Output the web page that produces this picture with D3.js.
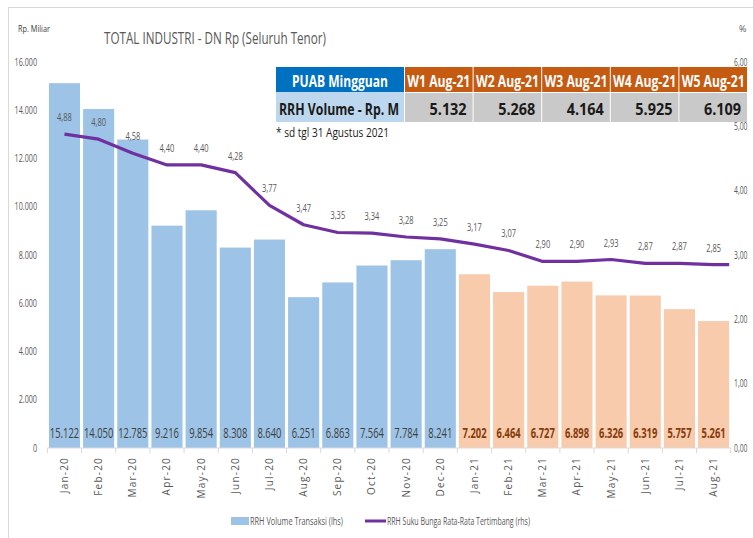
<!DOCTYPE html>
<html><head><meta charset="utf-8">
<script src="https://cdn.jsdelivr.net/npm/d3@7"></script>
<style>
html,body{margin:0;padding:0;background:#fff;}
svg{display:block;}
text{font-family:"Open Sans",sans-serif;}
</style></head>
<body>
<svg id="c" width="753" height="538"></svg>
<script>
const months = ["Jan-20","Feb-20","Mar-20","Apr-20","May-20","Jun-20","Jul-20","Aug-20","Sep-20","Oct-20","Nov-20","Dec-20","Jan-21","Feb-21","Mar-21","Apr-21","May-21","Jun-21","Jul-21","Aug-21"];
const volume = [15122,14050,12785,9216,9854,8308,8640,6251,6863,7564,7784,8241,7202,6464,6727,6898,6326,6319,5757,5261];
const rate = [4.88,4.80,4.58,4.40,4.40,4.28,3.77,3.47,3.35,3.34,3.28,3.25,3.17,3.07,2.90,2.90,2.93,2.87,2.87,2.85];
const leftTicks = [0,2000,4000,6000,8000,10000,12000,14000,16000];
const rightTicks = [0,1,2,3,4,5,6];
const weekLabels = ["W1 Aug-21","W2 Aug-21","W3 Aug-21","W4 Aug-21","W5 Aug-21"];
const weekVolume = [5132,5268,4164,5925,6109];

const loc = d3.formatLocale({decimal:",",thousands:".",grouping:[3],currency:["Rp",""]});
const fInt = loc.format(",d");
const f2 = loc.format(".2f");

const svg = d3.select("#c");

function squeeze(sel, f){
  sel.each(function(){
    const l = this.getComputedTextLength();
    this.setAttribute("textLength", (l*f).toFixed(2));
    this.setAttribute("lengthAdjust","spacingAndGlyphs");
  });
}
function fitW(sel, w){
  sel.attr("textLength", w).attr("lengthAdjust","spacingAndGlyphs");
}

// chart border
svg.append("rect").attr("x",8.5).attr("y",7.5).attr("width",780).attr("height",560)
  .attr("fill","none").attr("stroke","#d9d9d9");

const x = d3.scaleBand().domain(months).range([47.4,730.7]).paddingInner(0.09).paddingOuter(0.045);
const yL = d3.scaleLinear().domain([0,16000]).range([448,62]);
const yR = d3.scaleLinear().domain([0,6]).range([448,62]);

// bars
svg.append("g").selectAll("rect").data(volume).join("rect")
  .attr("x",(d,i)=>x(months[i]))
  .attr("y",d=>yL(d))
  .attr("width",x.bandwidth())
  .attr("height",d=>yL(0)-yL(d))
  .attr("fill",(d,i)=>months[i].endsWith("21")?"#F8CBAD":"#9DC3E6");

// x axis
const xAxis = svg.append("g").attr("transform","translate(0,448)");
xAxis.append("line").attr("x1",x.range()[0]).attr("x2",x.range()[1]).attr("stroke","#d9d9d9");
const bounds = months.map(m=>x(m)-x.step()*x.paddingInner()/2).concat([x.range()[1]]);
xAxis.selectAll("line.tk").data(bounds).join("line").attr("class","tk")
  .attr("x1",d=>d).attr("x2",d=>d).attr("y1",0).attr("y2",5).attr("stroke","#d9d9d9");
svg.append("g").selectAll("text").data(months).join("text")
  .attr("transform",m=>`translate(${x(m)+x.bandwidth()/2+3.5},457) rotate(-90)`)
  .attr("text-anchor","end")
  .attr("font-size",10).attr("fill","#595959").attr("letter-spacing","1.2px")
  .text(m=>m);

// left axis labels
const ll = svg.append("g").selectAll("text").data(leftTicks).join("text")
  .attr("x",37).attr("y",d=>yL(d)+3.5).attr("text-anchor","end")
  .attr("font-size",10).attr("fill","#595959").text(d=>fInt(d));
squeeze(ll,0.72);

// right axis labels
const rl = svg.append("g").selectAll("text").data(rightTicks).join("text")
  .attr("x",734).attr("y",d=>yR(d)+3.5)
  .attr("font-size",10).attr("fill","#595959").text(d=>f2(d));
squeeze(rl,0.68);

// bar value labels
const bl = svg.append("g").selectAll("text").data(volume).join("text")
  .attr("x",(d,i)=>x(months[i])+x.bandwidth()/2).attr("y",437.5)
  .attr("text-anchor","middle")
  .attr("font-size",14)
  .attr("font-weight",(d,i)=>months[i].endsWith("21")?700:400)
  .attr("fill",(d,i)=>months[i].endsWith("21")?"#843C0C":"#404040")
  .text(d=>fInt(d));
squeeze(bl,0.67);

// line
const pts = rate.map((r,i)=>[x(months[i])+x.bandwidth()/2, yR(r)]);
pts.push([x(months[months.length-1])+x.bandwidth(), yR(rate[rate.length-1])]);
svg.append("path").attr("d",d3.line()(pts)).attr("fill","none")
  .attr("stroke","#7030A0").attr("stroke-width",3.2).attr("stroke-linejoin","round");

const rlab = svg.append("g").selectAll("text").data(rate).join("text")
  .attr("x",(d,i)=>x(months[i])+x.bandwidth()/2).attr("y",d=>yR(d)-13)
  .attr("text-anchor","middle").attr("font-size",11).attr("fill","#595959")
  .text(d=>f2(d));
squeeze(rlab,0.68);

// titles
const t = svg.append("text").attr("x",104).attr("y",44).attr("font-size",17).attr("fill","#595959")
  .text("TOTAL INDUSTRI - DN Rp (Seluruh Tenor)");
fitW(t,222);
const rpm = svg.append("text").attr("x",18).attr("y",32).attr("font-size",9).attr("fill","#404040").text("Rp. Miliar");
fitW(rpm,32);
svg.append("text").attr("x",739).attr("y",32).attr("font-size",9).attr("fill","#595959").text("%");

// table
const tx0 = 276, firstW = 128;
const colX = d3.scaleBand().domain(weekLabels).range([404,747]);
const r1y = 67, r1h = 25, r2y = 92, r2h = 30;
const tb = svg.append("g").attr("font-family","Lato, 'Open Sans', sans-serif");
tb.append("rect").attr("x",tx0).attr("y",r1y).attr("width",firstW).attr("height",r1h).attr("fill","#0070C0");
tb.append("rect").attr("x",tx0).attr("y",r2y).attr("width",firstW).attr("height",r2h).attr("fill","#BDD7EE");
tb.selectAll("rect.h").data(weekLabels).join("rect").attr("class","h")
  .attr("x",d=>colX(d)+1).attr("y",r1y).attr("width",colX.bandwidth()-1).attr("height",r1h).attr("fill","#C55A11");
tb.selectAll("rect.v").data(weekLabels).join("rect").attr("class","v")
  .attr("x",d=>colX(d)+1).attr("y",r2y+1).attr("width",colX.bandwidth()-1).attr("height",r2h-1).attr("fill","#C9C9C9");
const th = tb.append("text").attr("x",tx0+firstW/2).attr("y",87).attr("text-anchor","middle")
  .attr("font-size",16).attr("font-weight",700).attr("fill","#fff").text("PUAB Mingguan");
fitW(th,96);
const tr = tb.append("text").attr("x",tx0+3).attr("y",115)
  .attr("font-size",16).attr("font-weight",700).attr("fill","#1a1a1a").text("RRH Volume - Rp. M");
fitW(tr,120);
const wh = tb.selectAll("text.wh").data(weekLabels).join("text").attr("class","wh")
  .attr("x",d=>colX(d)+colX.bandwidth()/2+0.5).attr("y",87).attr("text-anchor","middle")
  .attr("font-size",16).attr("font-weight",700).attr("fill","#fff").text(d=>d);
fitW(wh,63);
const wv = tb.selectAll("text.wv").data(weekVolume).join("text").attr("class","wv")
  .attr("x",(d,i)=>colX(weekLabels[i])+colX.bandwidth()-6).attr("y",115).attr("text-anchor","end")
  .attr("font-size",16).attr("font-weight",700).attr("fill","#1a1a1a").text(d=>fInt(d));
squeeze(wv,0.9);
const fn = svg.append("text").attr("x",276).attr("y",137).attr("font-size",12).attr("fill","#1a1a1a")
  .text("* sd tgl 31 Agustus 2021");
fitW(fn,113);

// legend
const lg = svg.append("g");
lg.append("rect").attr("x",231).attr("y",517).attr("width",18).attr("height",8).attr("fill","#9DC3E6");
const lt1 = lg.append("text").attr("x",250).attr("y",525).attr("font-size",10).attr("fill","#595959").text("RRH Volume Transaksi (lhs)");
fitW(lt1,93);
lg.append("line").attr("x1",365).attr("x2",386).attr("y1",521).attr("y2",521).attr("stroke","#7030A0").attr("stroke-width",3);
const lt2 = lg.append("text").attr("x",387).attr("y",525).attr("font-size",10).attr("fill","#595959").text("RRH Suku Bunga Rata-Rata Tertimbang (rhs)");
fitW(lt2,143);
</script>
</body></html>
